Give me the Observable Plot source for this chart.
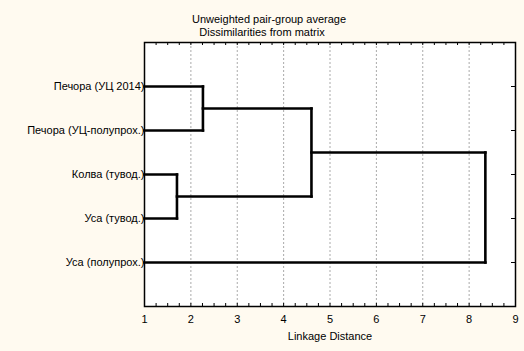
<!DOCTYPE html>
<html><head><meta charset="utf-8">
<script src="https://cdn.jsdelivr.net/npm/d3@7"></script>
<script src="https://cdn.jsdelivr.net/npm/@observablehq/plot@0.6"></script>
<style>body{margin:0;background:#fffaf0;}</style>
</head><body><div id="chart"></div>
<script>
const titleLines = ["Unweighted pair-group average", "Dissimilarities from matrix"];
const xLabel = "Linkage Distance";
const leaves = ["Печора (УЦ 2014)", "Печора (УЦ-полупрох.)", "Колва (тувод.)", "Уса (тувод.)", "Уса (полупрох.)"];
// [child A, child B, linkage distance]; indices >= leaves.length refer to earlier clusters
const merges = [[0, 1, 2.26], [2, 3, 1.70], [5, 6, 4.60], [7, 4, 8.35]];
const xTicks = [1, 2, 3, 4, 5, 6, 7, 8, 9];
const xMinorTicks = d3.range(1, 9.001, 0.25);
const gridTicks = [2, 3, 4, 5, 6, 7, 8];
const xDomain = [1, 9];

const nodes = leaves.map((name, i) => ({x: xDomain[0], y: i + 1}));
const segs = [];
merges.forEach(([a, b, h]) => {
  const A = nodes[a], B = nodes[b];
  segs.push({x1: A.x, x2: h, y1: A.y, y2: A.y});
  segs.push({x1: B.x, x2: h, y1: B.y, y2: B.y});
  segs.push({x1: h, x2: h, y1: A.y, y2: B.y});
  nodes.push({x: h, y: (A.y + B.y) / 2});
});

const W = 524, H = 351, mT = 42, mR = 9, mB = 45, mL = 144;
const fw = W - mL - mR, fh = H - mT - mB;

const chart = Plot.plot({
  width: W, height: H,
  marginTop: mT, marginRight: mR, marginBottom: mB, marginLeft: mL,
  style: {background: "#fffaf0", fontFamily: "'Liberation Sans', Arial, sans-serif", fontSize: "11px", color: "black"},
  x: {domain: xDomain, axis: null},
  y: {domain: [0, leaves.length + 1], reverse: true, axis: null},
  marks: [
    Plot.frame({fill: "white", stroke: null}),
    Plot.ruleX(gridTicks, {stroke: "#aaa", strokeWidth: 1, strokeDasharray: "2,2"}),
    Plot.tickX(xMinorTicks, {x: d => d, stroke: "black", strokeWidth: 1, insetTop: fh - 3}),
    Plot.tickX(xMinorTicks, {x: d => d, stroke: "black", strokeWidth: 1, insetBottom: fh - 3}),
    Plot.tickY(leaves.map((d, i) => i + 1), {y: d => d, stroke: "black", strokeWidth: 1, insetLeft: fw - 4}),
    Plot.link(segs, {x1: "x1", y1: "y1", x2: "x2", y2: "y2", stroke: "black", strokeWidth: 2.6, strokeLinecap: "square"}),
    Plot.text(leaves, {frameAnchor: "left", y: (d, i) => i + 1, text: d => d, textAnchor: "end", dx: 0, fontSize: 11, fill: "black"}),
    Plot.axisX(xTicks, {tickSize: 0, tickPadding: 9, label: null, fontSize: 11, fill: "black"}),
    Plot.text([xLabel], {frameAnchor: "bottom", text: d => d, dy: 33, fontSize: 11, fill: "black"}),
    Plot.text([titleLines[0]], {frameAnchor: "top", text: d => d, dy: -27, dx: -61, fontSize: 11, fill: "black"}),
    Plot.text([titleLines[1]], {frameAnchor: "top", text: d => d, dy: -14, dx: -68, fontSize: 11, fill: "black"}),
    Plot.frame({stroke: "black", strokeWidth: 1.5})
  ]
});
document.getElementById("chart").append(chart);
</script>
</body></html>
